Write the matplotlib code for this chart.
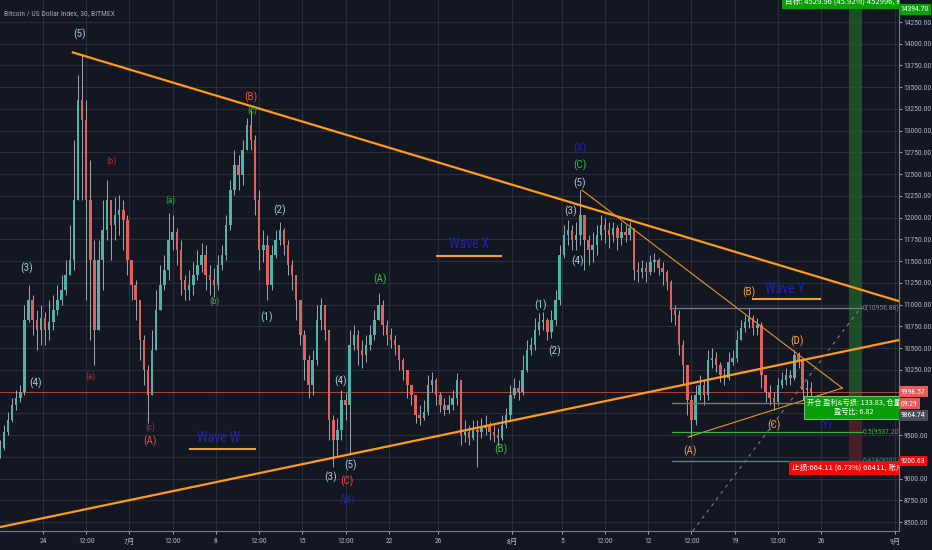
import numpy as np
import pandas as pd
import matplotlib
matplotlib.use('Agg')
import matplotlib.pyplot as plt
import matplotlib.dates as mdates
import matplotlib.transforms as mtransforms
from matplotlib import font_manager as fm


def pick_font(names, default):
    for n in names:
        try:
            fm.findfont(fm.FontProperties(family=n), fallback_to_default=False)
            return n
        except ValueError:
            pass
    return default


narrow = pick_font(['Liberation Sans Narrow', 'DejaVu Sans Condensed', 'Roboto Condensed'], None)
base_font = narrow or 'Liberation Sans'
plt.rcParams['font.family'] = [base_font, 'Liberation Sans', 'Noto Sans CJK SC', 'DejaVu Sans']
tick_fs = 5.5 if narrow else 4.8
name_fs = 10 if narrow else 8.5

# 8h candles (BITMEX XBTUSD, Jun 20 - Aug 25 2019)
start = '2019-06-20 12:00'
first_open = 9270
close = [9351, 9535, 9673, 9846, 9926, 9995, 10823, 11053, 10823, 10708,
         10846, 10708, 10800, 10938, 11053, 11168, 11341, 11513, 12203, 13353,
         13123, 12203, 11513, 10708, 11513, 11858, 12203, 11915, 12030, 12088,
         11973, 11513, 11226, 11053, 10593, 10248, 9961, 10478, 10938, 11226,
         11398, 11743, 11835, 11628, 11283, 11168, 11226, 11341, 11456, 11571,
         11341, 11283, 11226, 11456, 11571, 11915, 12318, 12605, 12490, 12778,
         13065, 12893, 12203, 11628, 11686, 11226, 11571, 11743, 11858, 11686,
         11456, 11341, 11053, 10651, 10363, 10076, 10363, 10823, 10996, 10708,
         9673, 9443, 9558, 9903, 9846, 10536, 10651, 10478, 10421, 10536,
         10651, 10823, 10996, 10766, 10651, 10593, 10536, 10363, 10248, 10076,
         9961, 9731, 9696, 9765, 10076, 10133, 9961, 9846, 9788, 9846,
         9926, 10133, 9501, 9535, 9466, 9558, 9535, 9581, 9616, 9535,
         9501, 9466, 9616, 9731, 9961, 10041, 9995, 10248, 10478, 10536,
         10708, 10800, 10823, 10685, 10823, 11053, 11571, 11800, 11858, 11743,
         11800, 12030, 11743, 11628, 11686, 11800, 11915, 11858, 11800, 11881,
         11766, 11835, 11800, 11881, 11398, 11375, 11421, 11375, 11490, 11513,
         11421, 11375, 11260, 10938, 10881, 10536, 10306, 9903, 9673, 9961,
         10076, 9961, 10363, 10386, 10306, 10191, 10156, 10340, 10386, 10593,
         10731, 10800, 10846, 10731, 10766, 10191, 9995, 9926, 9880, 10076,
         10133, 10191, 10156, 10421, 10363, 10018, 10041, 9998.57]
high = [9443, 9616, 9765, 9926, 10018, 10076, 10996, 11226, 11111, 10938,
        10996, 10915, 11053, 11111, 11226, 11341, 11513, 11915, 12893, 13640,
        13870, 13353, 12663, 11743, 11743, 12203, 12433, 12203, 12238, 12260,
        12203, 12030, 11513, 11283, 11053, 10651, 10306, 10708, 11168, 11456,
        11571, 12053, 12030, 11881, 11743, 11341, 11398, 11490, 11628, 11709,
        11686, 11456, 11421, 11571, 11686, 12030, 12433, 12778, 12720, 12893,
        13146, 13238, 12950, 12318, 11858, 11800, 11686, 11858, 11950, 11881,
        11743, 11513, 11283, 11053, 10708, 10421, 10478, 10996, 11076, 10915,
        10708, 9731, 9696, 10018, 9983, 10708, 10766, 10708, 10593, 10651,
        10766, 10938, 11134, 11053, 10823, 10731, 10651, 10536, 10386, 10248,
        10076, 9903, 9846, 9903, 10191, 10225, 10156, 9995, 9926, 9961,
        10018, 10214, 10133, 9673, 9616, 9673, 9673, 9696, 9731, 9650,
        9616, 9581, 9731, 9811, 10076, 10156, 10133, 10421, 10593, 10628,
        10846, 10903, 10915, 10846, 10938, 11168, 11686, 11915, 11973, 11915,
        11950, 12318, 11973, 11800, 11835, 11915, 12030, 11996, 11950, 11950,
        11915, 11950, 11915, 11950, 11881, 11490, 11513, 11490, 11571, 11594,
        11536, 11490, 11398, 11283, 10996, 10938, 10593, 10248, 9961, 10076,
        10191, 10133, 10478, 10501, 10455, 10340, 10271, 10455, 10478, 10708,
        10823, 10881, 10961, 10881, 10846, 10800, 10133, 10076, 9995, 10156,
        10225, 10271, 10248, 10478, 10455, 10386, 10133, 10110]
low = [9236, 9328, 9501, 9650, 9788, 9880, 9961, 10800, 10651, 10478,
       10536, 10536, 10593, 10708, 10881, 10996, 11111, 11341, 11398, 12318,
       12203, 11053, 10593, 10306, 10823, 11168, 11743, 11513, 11743, 11800,
       11628, 11341, 11053, 10823, 10363, 10076, 9638, 9961, 10536, 10996,
       11168, 11283, 11628, 11456, 11111, 11053, 11053, 11111, 11283, 11375,
       11168, 11111, 11088, 11168, 11398, 11513, 11858, 12260, 12318, 12375,
       12778, 12778, 12030, 11398, 11490, 11053, 11168, 11536, 11686, 11571,
       11341, 11168, 10823, 10536, 10133, 9926, 9961, 10306, 10708, 10593,
       9443, 9133, 9271, 9443, 9673, 9294, 10478, 10306, 10271, 10340,
       10478, 10593, 10823, 10651, 10536, 10501, 10421, 10248, 10133, 9926,
       9846, 9638, 9616, 9673, 9731, 9995, 9846, 9765, 9731, 9753,
       9788, 9846, 9386, 9420, 9386, 9443, 9133, 9466, 9501, 9443,
       9420, 9386, 9443, 9581, 9673, 9926, 9903, 9961, 10225, 10421,
       10478, 10651, 10708, 10593, 10616, 10766, 10996, 11536, 11686, 11628,
       11628, 11686, 11398, 11456, 11490, 11571, 11743, 11709, 11651, 11720,
       11628, 11686, 11720, 11743, 11283, 11260, 11306, 11260, 11341, 11375,
       11341, 11226, 11168, 10800, 10766, 10421, 10076, 9731, 9478, 9616,
       9903, 9846, 9903, 10271, 10225, 10110, 10076, 10133, 10306, 10340,
       10616, 10685, 10731, 10651, 10651, 10041, 9880, 9846, 9788, 9846,
       10041, 10076, 10076, 10133, 10271, 9903, 9926, 9926]

# trendlines and levels: (time, price)
upper_trend = [('2019-06-26 10:00', 13900), ('2019-09-01 07:00', 11040)]
lower_trend = [('2019-06-20 12:30', 8442), ('2019-09-01 07:00', 10593)]
tri_upper = [('2019-08-06 15:00', 12318), ('2019-08-27 17:00', 10041)]
tri_lower = [('2019-08-15 05:30', 9478), ('2019-08-27 17:00', 10041)]
dash_line = [('2019-08-15 14:30', 8397), ('2019-08-29 07:00', 10984)]
fib_start, fib_end = '2019-08-13 21:30', '2019-08-29 07:00'
fib_levels = [(10956.88, '0(10956.88)', '#7c7f8a'),
              (9537.20, '0.5(9537.20)', '#3fae49'),
              (9202.09, '0.618(9202.09)', '#2a9d8f')]
last_price = 9998.57
entry, target, stop = 9864.74, 14394.70, 9200.63
pos_start, pos_end = '2019-08-28 06:00', '2019-08-29 07:00'

colors = {'light': '#9fcad6', 'red': '#ef4646', 'dred': '#a8323a', 'green': '#2dbd3a',
          'blue': '#2222b8', 'orange': '#f2a035'}
wave_labels = [
    ('(5)', '2019-06-27 00:00', 14112, 'light', 8),
    ('(B)', '2019-07-10 20:00', 13388, 'red', 8),
    ('(c)', '2019-07-10 22:00', 13238, 'green', 6.5),
    ('(b)', '2019-06-29 14:00', 12652, 'dred', 6.5),
    ('(a)', '2019-07-04 07:00', 12203, 'green', 6.5),
    ('(2)', '2019-07-13 04:30', 12088, 'light', 8),
    ('(3)', '2019-06-22 17:00', 11421, 'light', 8),
    ('(4)', '2019-06-23 10:00', 10098, 'light', 8),
    ('(a)', '2019-06-27 19:30', 10179, 'dred', 6.5),
    ('(c)', '2019-07-02 16:00', 9593, 'dred', 6.5),
    ('(A)', '2019-07-02 16:00', 9432, 'red', 8),
    ('(b)', '2019-07-07 22:00', 11042, 'green', 6.5),
    ('(1)', '2019-07-12 03:00', 10858, 'light', 8),
    ('(A)', '2019-07-21 07:00', 11295, 'green', 8),
    ('(4)', '2019-07-18 03:00', 10122, 'light', 8),
    ('(3)', '2019-07-17 06:00', 9018, 'light', 8),
    ('(5)', '2019-07-18 22:30', 9155, 'light', 8),
    ('(C)', '2019-07-18 15:00', 8972, 'red', 8),
    ('(W)', '2019-07-18 15:00', 8753, 'blue', 8),
    ('(B)', '2019-07-31 02:00', 9340, 'green', 8),
    ('(1)', '2019-08-03 06:00', 10996, 'light', 8),
    ('(2)', '2019-08-04 11:00', 10467, 'light', 8),
    ('(3)', '2019-08-05 18:00', 12077, 'light', 8),
    ('(4)', '2019-08-06 06:00', 11502, 'light', 8),
    ('(5)', '2019-08-06 11:30', 12398, 'light', 8),
    ('(C)', '2019-08-06 11:30', 12606, 'green', 8),
    ('(X)', '2019-08-06 11:30', 12801, 'blue', 8),
    ('(B)', '2019-08-20 04:00', 11145, 'orange', 8),
    ('(D)', '2019-08-24 01:00', 10582, 'orange', 8),
    ('(C)', '2019-08-22 04:30', 9616, 'orange', 8),
    ('(A)', '2019-08-15 09:30', 9317, 'orange', 8),
    ('(Y)', '2019-08-26 09:30', 9616, 'blue', 8),
]
# wave names with underline: text, time, price, underline from, to, price
wave_names = [
    ('Wave W', '2019-07-08 06:00', 9466, '2019-07-05 21:30', '2019-07-11 04:00', 9340),
    ('Wave X', '2019-07-28 12:00', 11697, '2019-07-25 21:30', '2019-07-31 02:00', 11559),
    ('Wave Y', '2019-08-23 02:00', 11180, '2019-08-20 11:45', '2019-08-25 22:00', 11065),
]

tick_pos = ['2019-06-24', '2019-06-27 12:00', '2019-07-01', '2019-07-04 12:00', '2019-07-08',
            '2019-07-11 12:00', '2019-07-15', '2019-07-18 12:00', '2019-07-22', '2019-07-26',
            '2019-08-01', '2019-08-05', '2019-08-08 12:00', '2019-08-12', '2019-08-15 12:00',
            '2019-08-19', '2019-08-22 12:00', '2019-08-26', '2019-09-01']
tick_lab = ['24', '12:00', '7月', '12:00', '8', '12:00', '15', '12:00', '22', '26',
            '8月', '5', '12:00', '12', '12:00', '19', '12:00', '26', '9月']


def t(s):
    return mdates.date2num(pd.Timestamp(s))


bg = '#131722'
fig = plt.figure(figsize=(9.32, 5.5), dpi=100, facecolor=bg)
ax = fig.add_axes([0, 19 / 550, 899 / 932, 531 / 550], facecolor=bg)

times = pd.date_range(start, periods=len(close), freq='8h')
x = mdates.date2num(times)
c = np.array(close, dtype=float)
o = np.concatenate([[first_open], c[:-1]])
h = np.maximum(np.array(high, dtype=float), np.maximum(o, c))
l = np.minimum(np.array(low, dtype=float), np.minimum(o, c))
up = c >= o

ax.vlines(x, l, h, color='#b9bdc6', lw=0.6, zorder=2)
body_bot = np.minimum(o, c)
body_h = np.maximum(np.abs(c - o), 10)
ax.bar(x[up], body_h[up], width=0.2, bottom=body_bot[up], color='#4fb3a9', zorder=2.1)
ax.bar(x[~up], body_h[~up], width=0.2, bottom=body_bot[~up], color='#e0605e', zorder=2.1)

# current price line
ax.axhline(last_price, color='#d9534f', lw=0.6, alpha=0.8, zorder=1.5)

# trendlines
for pts, col, lw, ls in [(upper_trend, '#ff9a1a', 1.6, '-'), (lower_trend, '#ff9a1a', 1.6, '-'),
                         (tri_upper, '#e8962c', 0.8, '-'), (tri_lower, '#e8962c', 0.8, '-'),
                         (dash_line, '#7c7f8a', 0.8, (0, (3, 4)))]:
    ax.plot([t(pts[0][0]), t(pts[1][0])], [pts[0][1], pts[1][1]], color=col, lw=lw, ls=ls, zorder=3)

# fib levels
for lev, lab, col in fib_levels:
    ax.plot([t(fib_start), t(fib_end)], [lev, lev], color=col, lw=0.9, zorder=3)
    ax.text(t(fib_end) + 0.1, lev, lab, color=col, fontsize=5.5, va='center', ha='left',
            zorder=3, clip_on=True)

# position tool
ax.plot([t(fib_start), t(pos_start)], [entry, entry], color='#8a7656', lw=1.0, zorder=3)
ax.fill_between([t(pos_start), t(pos_end)], entry, target, color='#1f5e2c', alpha=0.8, lw=0, zorder=1.2)
ax.fill_between([t(pos_start), t(pos_end)], stop, entry, color='#5a1f27', alpha=0.8, lw=0, zorder=1.2)

# wave labels
for txt, tm, pr, col, fs in wave_labels:
    ax.text(t(tm), pr, txt, color=colors[col], fontsize=fs, ha='center', va='center', zorder=4)
for txt, tm, pr, u0, u1, up_pr in wave_names:
    ax.text(t(tm), pr, txt, color=colors['blue'], fontsize=name_fs, ha='center', va='center', zorder=4)
    ax.plot([t(u0), t(u1)], [up_pr, up_pr], color='#f2a035', lw=1.5, zorder=4)

# position boxes
cjk = ['Noto Sans CJK SC', 'DejaVu Sans']
ax.text(t('2019-08-23 02:00'), 14480, '目标: 4529.96 (45.92%) 452996, 数量: 100', fontsize=5.5,
        family=cjk, color='white', ha='left', va='center', zorder=6, clip_on=True,
        bbox=dict(boxstyle='square,pad=0.35', fc='#0a9e0a', ec='none'))
ax.text(t('2019-08-24 20:30'), 9817, '开仓 盈利&亏损: 133.83, 仓量\n盈亏比: 6.82', fontsize=5.2,
        family=cjk, color='white', ha='left', va='center', multialignment='center', zorder=6,
        clip_on=True, linespacing=1.2,
        bbox=dict(boxstyle='square,pad=0.4', fc='#0a9e0a', ec='#8fd08f', lw=0.6))
ax.text(t('2019-08-23 15:30'), 9121, '止损:664.11 (6.73%) 66411, 账户', fontsize=5.5,
        family=cjk, color='white', ha='left', va='center', zorder=6, clip_on=True,
        bbox=dict(boxstyle='square,pad=0.35', fc='#f50a0a', ec='none'))

# axes styling
ax.set_xlim(t('2019-06-20 12:30'), t('2019-09-01 07:10'))
ax.set_ylim(8397, 14503)
ax.set_xticks([t(s) for s in tick_pos])
ax.set_xticklabels(tick_lab)
yt = np.arange(8500, 14251, 250)
ax.set_yticks(yt)
# 10000, 9750 and 9250 sit under the price tags
ax.set_yticklabels(['' if v in (10000, 9750, 9250) else '%.2f' % v for v in yt])
ax.yaxis.tick_right()
ax.tick_params(axis='both', colors='#b2b5be', labelsize=tick_fs, length=2, width=0.6)
ax.tick_params(axis='x', pad=3, labelsize=5.5)
ax.tick_params(axis='y', pad=1.5)
ax.grid(True, color='#2a2e39', lw=0.8, zorder=0)
ax.set_axisbelow(True)
for side in ['top', 'left']:
    ax.spines[side].set_visible(False)
for side in ['right', 'bottom']:
    ax.spines[side].set_color('#787b86')
    ax.spines[side].set_linewidth(0.8)

# right-hand price tags
tr = mtransforms.blended_transform_factory(ax.transAxes, ax.transData)
for pr, txt, fc in [(target, '14394.70', '#0a9e0a'), (last_price, '9998.57', '#e35b5b'),
                    (9862, '09:29', '#e35b5b'), (9726, '9864.74', '#4a4e59'),
                    (stop, '9200.63', '#f50a0a')]:
    ax.text(1.002, pr, txt, transform=tr, fontsize=tick_fs, color='white', ha='left', va='center',
            clip_on=False, zorder=10, bbox=dict(boxstyle='square,pad=0.3', fc=fc, ec='none'))

fig.text(4 / 932, 1 - 13 / 550, 'Bitcoin / US Dollar Index, 30, BITMEX', fontsize=5.5,
         color='#a3a6af', ha='left', va='center')

fig.savefig('out.png', dpi=100, facecolor=bg)
